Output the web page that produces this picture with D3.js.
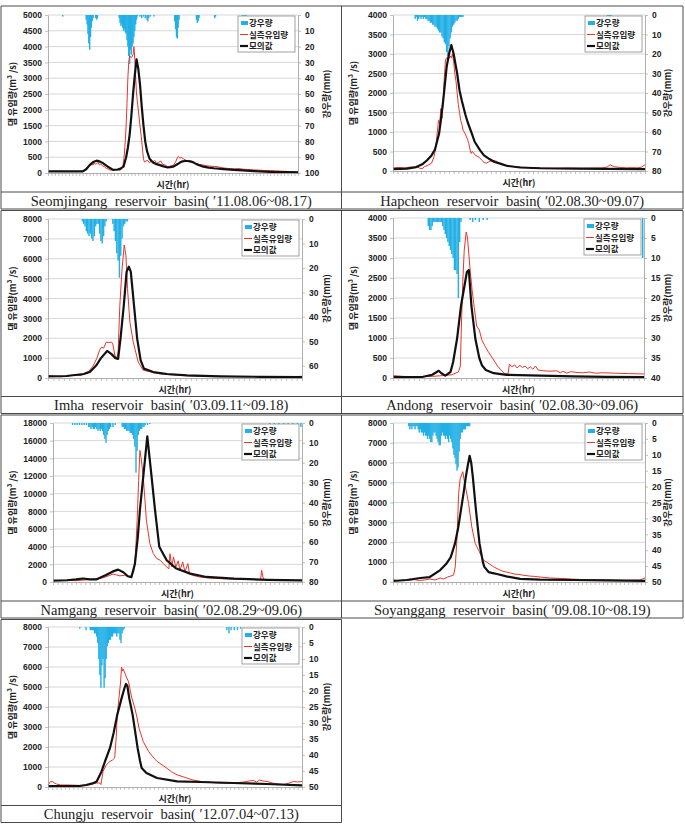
<!DOCTYPE html>
<html><head><meta charset="utf-8">
<script src="https://cdn.jsdelivr.net/npm/d3@7"></script>
<style>body{margin:0;background:#fff}svg{display:block}</style>
</head><body><svg id="c" width="685" height="825"></svg>
<script>
// ---------------- DATA ----------------
const legendLabels = ["강우량", "실측유입량", "모의값"];
const yTitle = "댐 유입량(m³ /s)";
const rTitle = "강우량(mm)";
const xTitle = "시간(hr)";
const captions = [
  "Seomjingang reservoir basin(\u2005′11.08.06~08.17)",
  "Hapcheon reservoir basin(\u2005′02.08.30~09.07)",
  "Imha reservoir basin(\u2005′03.09.11~09.18)",
  "Andong reservoir basin(\u2005′02.08.30~09.06)",
  "Namgang reservoir basin(\u2005′02.08.29~09.06)",
  "Soyanggang reservoir basin(\u2005′09.08.10~08.19)",
  "Chungju reservoir basin(\u2005′12.07.04~07.13)"
];
const hoursPerPanel = [288, 216, 192, 192, 216, 240, 240];

// Seomjingang
const seomYTicks = [0,500,1000,1500,2000,2500,3000,3500,4000,4500,5000];
const seomRTicks = [0,10,20,30,40,50,60,70,80,90,100];
const seomModel = [[0,50],[40,50],[44,120],[48,250],[52,350],[56,390],[60,360],[64,300],[70,180],[75,100],[80,110],[83,130],[87,200],[90,500],[92,800],[94,1200],[96,1800],[98,2500],[100,3100],[102,3600],[104,3300],[106,2800],[108,2100],[110,1500],[112,1000],[114,700],[117,450],[121,330],[125,280],[129,250],[133,210],[137,180],[141,185],[144,200],[148,260],[152,330],[155,370],[158,380],[161,380],[164,370],[168,330],[171,280],[175,240],[179,200],[185,170],[191,150],[202,125],[214,100],[225,80],[237,60],[250,45],[260,30],[275,25],[288,20]];
const seomObs = [[0,50],[10,55],[20,45],[30,50],[38,50],[42,80],[44,150],[46,200],[48,230],[50,280],[52,250],[53,320],[55,280],[56,300],[58,330],[59,260],[61,280],[63,220],[65,200],[67,150],[70,110],[72,90],[75,100],[78,110],[81,90],[84,100],[86,200],[87,350],[88,600],[89,1000],[90,1500],[91,2200],[92,3000],[93,3500],[94,3700],[96,3650],[98,3750],[99,4000],[100,3600],[101,3000],[102,2500],[104,2000],[106,1500],[108,1000],[109,700],[110,450],[111,350],[113,380],[115,400],[117,320],[119,380],[121,350],[123,400],[125,300],[127,330],[130,380],[132,280],[135,250],[138,200],[141,220],[144,230],[147,350],[149,480],[150,520],[152,470],[154,500],[156,440],[158,420],[160,380],[163,350],[166,330],[170,300],[174,270],[178,260],[182,230],[186,220],[190,210],[195,200],[200,170],[205,150],[210,140],[215,130],[220,140],[225,120],[230,110],[237,100],[243,90],[250,80],[256,80],[262,70],[268,60],[275,50],[282,40],[288,30]];
const seomRain = [[17,1],[44,3],[45,6],[46,12],[47,18],[48,22],[49,14],[50,8],[51,4],[52,2],[55,2],[56,3],[57,2],[82,2],[83,5],[84,7],[85,6],[86,8],[87,10],[88,9],[89,11],[90,12],[91,16],[92,20],[93,26],[94,31],[95,22],[96,25],[97,20],[98,18],[99,14],[100,10],[101,6],[102,3],[103,1],[106,1],[108,2],[110,1],[112,2],[114,3],[115,4],[116,2],[118,1],[122,1],[146,4],[147,9],[148,14],[149,15],[150,8],[151,3],[171,3],[172,5],[173,4],[174,2],[192,2],[193,1],[224,1],[226,1],[228,1]];

// Hapcheon
const hapYTicks = [0,500,1000,1500,2000,2500,3000,3500,4000];
const hapRTicks = [0,10,20,30,40,50,60,70,80];
const hapModel = [[0,50],[12,60],[20,100],[25,170],[29,270],[33,400],[36,550],[39.5,960],[41,1300],[43,1800],[46,2670],[48,3000],[50,3230],[52,3000],[55,2500],[57,2070],[59,1800],[62,1450],[64,1250],[67.6,960],[70,750],[74.7,530],[78,400],[83,300],[87,230],[92,190],[98,130],[109,90],[126,70],[155,60],[183,55],[216,50]];
const hapObs = [[0,80],[5,90],[10,80],[15,100],[18,90],[20,120],[23,70],[25,60],[27,110],[30,150],[33,200],[35,350],[36,500],[37,700],[38,1000],[39,1300],[40,1200],[41,1600],[42,1350],[43,1800],[44,2400],[45,2850],[46,2900],[48,2880],[49,2950],[50,2900],[51,3000],[52,2800],[53,2500],[54,2300],[55,2000],[56,1700],[57,1500],[58,1300],[59,1200],[60,1050],[62,950],[64,800],[65,700],[66,550],[67,450],[68,500],[70,420],[72,380],[74,350],[76,280],[78,220],[80,200],[83,250],[86,270],[88,260],[90,230],[92,170],[95,150],[98,140],[100,130],[104,110],[110,100],[115,90],[120,80],[130,75],[140,70],[150,75],[160,70],[170,75],[180,80],[184,110],[186,160],[188,130],[190,110],[195,90],[200,80],[205,85],[210,80],[213,100],[216,160]];
const hapRain = [[19,2],[20,1],[21,3],[22,2],[23,1],[24,2],[25,1],[26,2],[27,1],[28,2],[29,2],[30,3],[31,3],[32,4],[33,4],[34,5],[35,5],[36,6],[37,6],[38,7],[39,8],[40,9],[41,9],[42,11],[43,12],[44,14],[45,15],[46,19],[47,21],[48,16],[49,12],[50,9],[51,6],[52,5],[53,4],[54,3],[55,3],[56,2],[57,1],[58,1],[59,1],[60,1],[184,1],[185,1],[186,1],[187,1]];

// Imha
const imhaYTicks = [0,1000,2000,3000,4000,5000,6000,7000,8000];
const imhaRTicks = [0,10,20,30,40,50,60];
const imhaModel = [[0,80],[14,100],[27,200],[31.6,300],[36.6,640],[40,1000],[44.7,1360],[48,1200],[51,1000],[53,960],[54.8,1980],[57.3,3660],[59.4,5340],[61.1,5600],[62.6,5340],[65,3660],[67.4,1980],[70,900],[72.5,470],[79.6,300],[90,200],[105,130],[130,80],[160,60],[192,40]];
const imhaObs = [[0,120],[5,80],[10,60],[15,100],[20,150],[25,120],[28,250],[31,350],[34,600],[37,1000],[39,1400],[40.5,1560],[42,1500],[44,1800],[46,1780],[48,1810],[49,1700],[50.5,1150],[52,980],[53,1300],[54.3,3660],[55.8,5340],[57.6,6690],[58.9,6180],[60.1,4500],[61.9,2820],[64.4,1815],[68.2,800],[72,390],[78,300],[85,200],[95,150],[110,100],[130,80],[150,60],[170,70],[185,60],[192,90]];
const imhaRain = [[26,1],[27,2],[28,3],[29,5],[30,6],[31,7],[32,6],[33,8],[34,9],[35,7],[36,3],[37,2],[38,2],[39,6],[40,9],[41,10],[42,7],[43,3],[44,1],[49,2],[50,5],[51,9],[52,14],[53,17],[54,24],[55,15],[56,8],[57,3],[58,2],[59,1],[60,1]];

// Andong
const andongYTicks = [0,500,1000,1500,2000,2500,3000,3500,4000];
const andongRTicks = [0,5,10,15,20,25,30,35,40];
const andongModel = [[0,20],[23,30],[30,80],[35,180],[37,120],[40,60],[44,150],[46,400],[49,980],[52,1800],[56.5,2650],[58,2700],[60,1800],[63,980],[66,500],[68,320],[71,200],[77,120],[87,80],[113,60],[138,40],[163,30],[192,20]];
const andongObs = [[0,60],[8,40],[20,30],[30,40],[38,60],[45,80],[50,150],[51.5,300],[52.5,1500],[53.5,2500],[54.5,3200],[56,3650],[57,3500],[58,3100],[59,2700],[60.5,2200],[62,1800],[64,1300],[66,1200],[68,950],[70,820],[72,700],[74,600],[76,500],[78,400],[80,300],[82,220],[85,120],[88,100],[89,350],[91,280],[93,330],[95,250],[97,320],[99,260],[101,300],[103,230],[105,280],[107,220],[109,300],[111,200],[115,180],[120,170],[125,180],[128,130],[130,170],[133,120],[136,160],[140,140],[145,130],[150,150],[155,120],[160,130],[170,120],[180,110],[192,100]];
const andongRain = [[27,2],[28,3],[29,3],[30,2],[31,1],[32,1],[33,1],[34,1],[35,1],[36,1],[37,1],[38,2],[39,3],[40,4],[41,5],[42,6],[43,7],[44,8],[45,9],[46,10],[47,13],[48,13],[49,14],[50,20],[51,6],[52,1],[59,0.5],[61,1],[63,0.5],[66,1],[69,0.5],[72,0.5],[191,10]];

// Namgang
const namYTicks = [0,2000,4000,6000,8000,10000,12000,14000,16000,18000];
const namRTicks = [0,10,20,30,40,50,60,70,80];
const namModel = [[0,150],[12,200],[20,300],[26,400],[32,300],[38,300],[46,800],[52,1200],[56.5,1400],[61,1100],[65,650],[68,550],[71,2000],[73.5,5000],[75.4,8150],[78.3,11930],[81.8,16500],[85.5,11930],[88.5,8150],[92.2,3980],[98.6,2460],[107,1520],[119,950],[133,570],[157,380],[186,250],[216,190]];
const namObs = [[0,150],[10,200],[20,150],[30,250],[38,350],[44,500],[48,700],[52,900],[55,800],[58,700],[62,750],[66,600],[68,550],[70,1200],[71.5,3000],[73,7000],[74.3,11500],[75.4,14900],[76.5,14000],[78.3,11930],[81,7000],[84,4360],[87,3220],[90,2650],[93,2460],[95.7,2080],[98.6,1700],[100.5,1500],[101.5,3200],[103,1700],[104.5,2840],[106.5,1700],[108.7,2400],[110,1300],[112.5,2270],[114.5,1150],[117,2080],[118.5,900],[121,760],[127,570],[135,450],[150,350],[170,300],[180,250],[181,1330],[182.5,300],[195,220],[205,200],[216,150]];
const namRain = [[17,1],[19,1],[21,1],[23,1],[25,1],[27,1],[29,1],[31,2],[32,2],[33,3],[34,2],[35,3],[36,3],[37,2],[38,3],[39,4],[40,3],[41,4],[42,3],[43,4],[44,6],[45,8],[46,10],[47,6],[48,4],[49,3],[50,2],[52,2],[54,1],[60,2],[61,2],[62,3],[63,3],[64,4],[65,4],[66,4],[67,5],[68,5],[69,6],[70,8],[71,12],[72,25],[73,14],[74,6],[75,4],[76,3],[77,3],[78,2],[79,2],[80,1],[82,1],[84,0.5],[188,1],[192,1],[196,1],[200,1],[204,1],[208,1],[212,1],[215,2]];

// Soyanggang
const soyYTicks = [0,1000,2000,3000,4000,5000,6000,7000,8000];
const soyRTicks = [0,5,10,15,20,25,30,35,40,45,50];
const soyModel = [[0,50],[13,100],[26,200],[35,250],[45,600],[51,930],[55,1250],[59,1930],[62,2700],[64.7,3620],[67,4400],[69.4,5300],[71,5800],[73,6350],[74.5,6000],[76,5300],[79,3620],[82.4,1930],[85.6,1000],[87,760],[91,500],[95,450],[99,400],[108,280],[121,160],[140,120],[172,100],[204,80],[240,60]];
const soyObs = [[0,120],[5,60],[10,100],[15,80],[20,120],[25,80],[30,100],[35,150],[40,100],[45,200],[48,150],[52,250],[55,300],[57.7,350],[59.3,760],[61,2270],[62.5,4460],[64,5200],[66.5,5550],[67.5,5200],[69,4800],[72,3950],[75,2780],[78.3,1940],[81.5,1600],[84.6,1260],[86,1100],[89,1010],[92,900],[96,760],[100,650],[104,550],[108,500],[112,450],[116,400],[120,380],[124,340],[130,300],[135,280],[140,250],[150,200],[160,180],[170,150],[180,120],[200,100],[220,80],[235,100],[240,200]];
const soyRain = [[15,1],[16,2],[17,1],[18,2],[19,1],[20,1],[21,2],[22,1],[23,1],[24,2],[25,3],[26,2],[27,3],[28,3],[29,4],[30,3],[31,4],[32,4],[33,5],[34,4],[35,5],[36,6],[37,6],[38,4],[39,3],[40,3],[41,4],[42,5],[43,6],[44,7],[45,7],[46,4],[47,3],[48,4],[49,4],[50,5],[51,4],[52,5],[53,6],[54,4],[55,5],[56,6],[57,8],[58,10],[59,11],[60,13],[61,15],[62,14],[63,9],[64,5],[65,3],[66,3],[67,2],[68,2],[69,2],[70,1],[71,1],[72,1],[73,1]];

// Chungju
const chungYTicks = [0,1000,2000,3000,4000,5000,6000,7000,8000];
const chungRTicks = [0,5,10,15,20,25,30,35,40,45,50];
const chungModel = [[0,50],[20,50],[30,50],[36,100],[42,180],[46,280],[50.6,780],[54,1300],[58.5,1940],[62,2700],[65.4,3600],[69.5,4430],[72,4900],[73.6,5150],[75,5050],[76.8,4430],[80,3600],[84.7,1940],[87,1300],[88.5,950],[93,700],[103,450],[122,280],[144,250],[175,200],[207,150],[240,80]];
const chungObs = [[0,100],[2,250],[4,280],[6,200],[8,150],[12,100],[20,100],[30,80],[38,100],[42,150],[46,200],[49,200],[50,120],[52,780],[55,1100],[58.5,1280],[61,1350],[63,1450],[64.5,2500],[65.4,3600],[67,4430],[68.5,5200],[69.5,6000],[70.3,5800],[71,5900],[72.7,5680],[74,5500],[76,5280],[79,4500],[82,3950],[84,3500],[86,2940],[90,2270],[95,1780],[100,1450],[103,1280],[108,1100],[112,950],[117,750],[122,610],[131,450],[137,350],[144,280],[150,250],[160,200],[170,180],[175,200],[185,250],[190,300],[194,330],[197,250],[200,350],[203,300],[207,280],[212,200],[217,150],[223,120],[228,200],[232,280],[236,250],[240,280]];
const chungRain = [[30,0.5],[36,1],[40,1],[41,1],[42,1],[43,1],[44,2],[45,2],[46,3],[47,5],[48,10],[49,15],[50,19],[51,12],[52,10],[53,19],[54,16],[55,10],[56,6],[57,5],[58,4],[59,4],[60,3],[61,3],[62,2],[63,2],[64,2],[65,3],[66,2],[67,2],[68,4],[69,5],[70,2],[71,1],[72,0.5],[169,1],[171,2],[173,1],[176,1],[179,1],[182,0.5]];

// ---------------- LAYOUT ----------------
const rowTops = [6, 210.5, 415, 619.5];
const chartH = 186, capH = 17;
const colX = [1, 341.5, 683];
const boxes = [
  {l:48, r:298, t:15, b:173, row:0, col:0},
  {l:393, r:645, t:15, b:171, row:0, col:1},
  {l:48, r:302, t:219, b:378, row:1, col:0},
  {l:393, r:644, t:218, b:378, row:1, col:1},
  {l:53, r:302, t:423, b:582, row:2, col:0},
  {l:393, r:645, t:423, b:582, row:2, col:1},
  {l:48, r:302, t:627, b:787, row:3, col:0}
];
const panelData = [
  {yTicks:seomYTicks, rTicks:seomRTicks, rMax:100, model:seomModel, obs:seomObs, rain:seomRain},
  {yTicks:hapYTicks, rTicks:hapRTicks, rMax:80, model:hapModel, obs:hapObs, rain:hapRain},
  {yTicks:imhaYTicks, rTicks:imhaRTicks, rMax:65, model:imhaModel, obs:imhaObs, rain:imhaRain},
  {yTicks:andongYTicks, rTicks:andongRTicks, rMax:40, model:andongModel, obs:andongObs, rain:andongRain},
  {yTicks:namYTicks, rTicks:namRTicks, rMax:80, model:namModel, obs:namObs, rain:namRain},
  {yTicks:soyYTicks, rTicks:soyRTicks, rMax:50, model:soyModel, obs:soyObs, rain:soyRain},
  {yTicks:chungYTicks, rTicks:chungRTicks, rMax:50, model:chungModel, obs:chungObs, rain:chungRain}
];

const RAIN = "#22b0e6", OBS = "#e8352b", MOD = "#111111";
const NUMFONT = "'Liberation Sans', Arial, sans-serif";
const KFONT = "'Noto Sans CJK KR', 'Noto Sans', sans-serif";

const svg = d3.select("#c");
svg.append("rect").attr("width",685).attr("height",825).attr("fill","#fff");

function drawPanel(i){
  const p = boxes[i], d = panelData[i], hours = hoursPerPanel[i];
  const yMax = d3.max(d.yTicks);
  const x = d3.scaleLinear().domain([0,hours]).range([p.l,p.r]);
  const y = d3.scaleLinear().domain([0,yMax]).range([p.b,p.t]);
  const yr = d3.scaleLinear().domain([0,d.rMax]).range([p.t,p.b]);
  const g = svg.append("g");

  g.append("g").selectAll("line").data(d.yTicks.filter(v=>v>0)).join("line")
    .attr("x1",p.l).attr("x2",p.r).attr("y1",v=>y(v)).attr("y2",v=>y(v))
    .attr("stroke","#cdcdcd").attr("stroke-width",0.8);

  const bw = Math.max(1.4, (x(1)-x(0))*1.1);
  g.append("g").selectAll("rect").data(d.rain).join("rect")
    .attr("x",v=>x(v[0])-bw/2).attr("y",p.t).attr("width",bw)
    .attr("height",v=>Math.max(0.6, yr(v[1])-p.t)).attr("fill",RAIN);

  const line = d3.line().x(v=>x(v[0])).y(v=>y(v[1]));
  g.append("path").datum(d.obs).attr("d",line).attr("fill","none")
    .attr("stroke",OBS).attr("stroke-width",1).attr("stroke-linejoin","round");
  g.append("path").datum(d.model).attr("d",line).attr("fill","none")
    .attr("stroke",MOD).attr("stroke-width",2.2).attr("stroke-linejoin","round");

  const la = g.append("g").attr("transform",`translate(${p.l},0)`)
    .call(d3.axisLeft(y).tickValues(d.yTicks).tickFormat(d3.format("d")).tickSize(3).tickSizeOuter(0).tickPadding(3));
  const ra = g.append("g").attr("transform",`translate(${p.r},0)`)
    .call(d3.axisRight(yr).tickValues(d.rTicks).tickFormat(d3.format("d")).tickSize(3).tickSizeOuter(0).tickPadding(4));
  const ba = g.append("g").attr("transform",`translate(0,${p.b})`)
    .call(d3.axisBottom(x).tickValues(d3.range(0,hours+0.1,4)).tickFormat("").tickSize(3).tickSizeOuter(0));
  [la,ra,ba].forEach(a=>{
    a.selectAll("path.domain").attr("stroke","#9a9a9a").attr("stroke-width",0.8);
    a.selectAll("line").attr("stroke","#a8a8a8").attr("stroke-width",0.7);
    a.selectAll("text").attr("font-family",NUMFONT).attr("font-weight","bold").attr("font-size",8.5).attr("fill","#222");
  });

  const cellL = colX[p.col], cellR = colX[p.col+1];
  const midY = (p.t+p.b)/2;
  g.append("text").attr("transform",`translate(${cellL+15},${midY}) rotate(-90)`)
    .attr("text-anchor","middle").attr("font-family",KFONT).attr("font-weight","bold")
    .attr("font-size",9).attr("fill","#222").text(yTitle);
  g.append("text").attr("transform",`translate(${cellR-12},${midY}) rotate(-90)`)
    .attr("text-anchor","middle").attr("font-family",KFONT).attr("font-weight","bold")
    .attr("font-size",9).attr("fill","#222").text(rTitle);
  g.append("text").attr("x",(p.l+p.r)/2).attr("y",p.b+15)
    .attr("text-anchor","middle").attr("font-family",KFONT).attr("font-weight","bold")
    .attr("font-size",9).attr("fill","#222").text(xTitle);

  // legend
  const lw = 57, lh = 36, lx = p.r - lw - 3, ly = p.t + 1;
  const lg = g.append("g");
  lg.append("rect").attr("x",lx).attr("y",ly).attr("width",lw).attr("height",lh)
    .attr("fill","#fff").attr("stroke","#8a8a8a").attr("stroke-width",0.8);
  legendLabels.forEach((lab,k)=>{
    const yy = ly + 7 + k*11.5;
    if(k===0) lg.append("rect").attr("x",lx+3).attr("y",yy-2).attr("width",7).attr("height",4).attr("fill",RAIN);
    else lg.append("line").attr("x1",lx+2).attr("x2",lx+10).attr("y1",yy).attr("y2",yy)
      .attr("stroke",k===1?OBS:MOD).attr("stroke-width",k===1?1:2.2);
    lg.append("text").attr("x",lx+11).attr("y",yy+3).attr("font-family",KFONT).attr("font-weight","bold")
      .attr("font-size",8.5).attr("fill","#222").text(lab);
  });
}

// table
const T = svg.append("g").attr("stroke","#4a4a4a").attr("stroke-width",1).attr("fill","none");
rowTops.forEach((t,ri)=>{
  const xr = ri===3 ? colX[1] : colX[2];
  [t, t+chartH, t+chartH+capH].forEach(yy=>{
    T.append("line").attr("x1",colX[0]).attr("x2",xr).attr("y1",yy).attr("y2",yy);
  });
  const cols = ri===3 ? [colX[0],colX[1]] : colX;
  cols.forEach(xx=>T.append("line").attr("x1",xx).attr("x2",xx).attr("y1",t).attr("y2",t+chartH+capH));
});

for(let i=0;i<7;i++){
  drawPanel(i);
  const p = boxes[i];
  const cx = (colX[p.col]+colX[p.col+1])/2;
  svg.append("text").attr("x",cx).attr("y",rowTops[p.row]+chartH+13.5)
    .attr("text-anchor","middle").attr("font-family","'Liberation Serif','DejaVu Serif',serif")
    .attr("font-size",14.5).attr("word-spacing",4).attr("fill","#222").text(captions[i]);
}
</script>
</body></html>
